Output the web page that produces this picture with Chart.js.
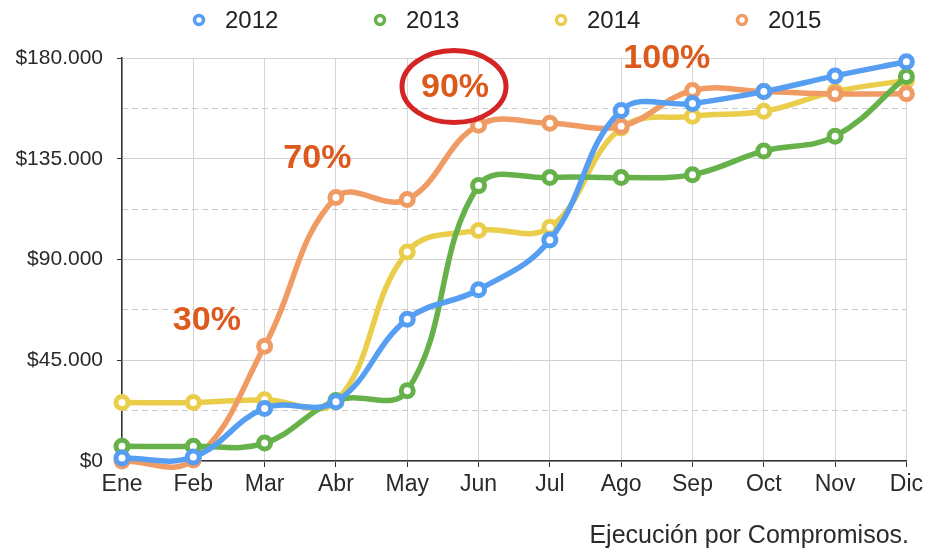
<!DOCTYPE html>
<html>
<head>
<meta charset="utf-8">
<script src="https://cdn.jsdelivr.net/npm/chart.js@4/dist/chart.umd.min.js"></script>
<style>
  html, body { margin: 0; padding: 0; background: #fff; }
  #wrap { width: 927px; height: 549px; }
</style>
</head>
<body>
<div id="wrap"><canvas id="chart" width="927" height="549"></canvas></div>
<script>
// Data
const months = ['Ene', 'Feb', 'Mar', 'Abr', 'May', 'Jun', 'Jul', 'Ago', 'Sep', 'Oct', 'Nov', 'Dic'];
const years = ['2012', '2013', '2014', '2015'];
const values2012 = [1300, 1800, 23500, 26500, 63300, 76500, 98700, 156600, 159700, 165000, 172000, 178300];
const values2013 = [6600, 6600, 8000, 27000, 31400, 123000, 126600, 126600, 127900, 138500, 145100, 171700];
const values2014 = [26100, 26100, 27400, 26500, 93400, 103000, 104400, 148700, 154000, 156200, 165000, 170000];
const values2015 = [0, 500, 51300, 117700, 116800, 150000, 150900, 149500, 165500, 165000, 164000, 164000];
const yMax = 180000;
const yStep = 22500;
const yLabelStep = 45000;
const subtitle = 'Ejecución por Compromisos.';

// percentage notes placed on the chart (category index, value)
const notes = [
  { text: '30%', at: 1.19, value: 62800 },
  { text: '70%', at: 2.74, value: 135000 },
  { text: '90%', at: 4.67, value: 166800, circled: true },
  { text: '100%', at: 7.64, value: 179700 }
];

const colors = ['#559ef2', '#67b14b', '#ebcd4c', '#f19b64'];
const series = [values2012, values2013, values2014, values2015];
const drawOrder = [0, 1, 3, 2];

const FONT = '"Liberation Sans", Arial, sans-serif';
Chart.defaults.font.family = FONT;
Chart.defaults.color = '#2a2a2a';

function money(v) {
  return '$' + v.toString().replace(/\B(?=(\d{3})+(?!\d))/g, '.');
}

// legend with wide spacing, drawn above the plot
const spacedLegend = {
  id: 'spacedLegend',
  afterDraw(chart) {
    const ctx = chart.ctx;
    const x0 = chart.chartArea.left + 77;
    const step = 181;
    ctx.save();
    chart.data.datasets.forEach((ds, i) => {
      const cx = x0 + i * step;
      ctx.beginPath();
      ctx.arc(cx, 20, 4.5, 0, Math.PI * 2);
      ctx.fillStyle = '#fff';
      ctx.fill();
      ctx.lineWidth = 3.5;
      ctx.strokeStyle = ds.borderColor;
      ctx.stroke();
      ctx.font = '24px ' + FONT;
      ctx.fillStyle = '#222';
      ctx.textAlign = 'left';
      ctx.textBaseline = 'middle';
      ctx.fillText(ds.label, cx + 26, 21);
    });
    ctx.restore();
  }
};

// orange percentage notes
const percentNotes = {
  id: 'percentNotes',
  afterDatasetsDraw(chart) {
    const ctx = chart.ctx;
    const xs = chart.scales.x;
    const ys = chart.scales.y;
    ctx.save();
    notes.forEach((n) => {
      const x = xs.getPixelForValue(n.at);
      const y = ys.getPixelForValue(n.value);
      ctx.font = 'bold 34px ' + FONT;
      ctx.fillStyle = '#dc5a1c';
      ctx.textAlign = 'center';
      ctx.textBaseline = 'middle';
      ctx.fillText(n.text, x, y);
      if (n.circled) {
        ctx.beginPath();
        ctx.ellipse(x - 1, y - 1, 52, 36, 0, 0, Math.PI * 2);
        ctx.lineWidth = 5;
        ctx.strokeStyle = '#d42424';
        ctx.stroke();
      }
    });
    ctx.restore();
  }
};

new Chart(document.getElementById('chart').getContext('2d'), {
  type: 'line',
  data: {
    labels: months,
    datasets: years.map((y, i) => ({
      label: y,
      data: series[i],
      yAxisID: 'y',
      borderColor: colors[i],
      backgroundColor: colors[i],
      borderWidth: 5.5,
      pointRadius: 6,
      pointBorderWidth: 5,
      pointBackgroundColor: '#fff',
      pointBorderColor: colors[i],
      tension: 0.4,
      fill: false,
      clip: false,
      order: drawOrder[i]
    }))
  },
  options: {
    responsive: false,
    animation: false,
    layout: { padding: { top: 58, left: 0, right: 18, bottom: 0 } },
    elements: { line: { capBezierPoints: false } },
    plugins: {
      legend: { display: false },
      tooltip: { enabled: false },
      title: {
        display: true,
        text: subtitle,
        position: 'bottom',
        align: 'end',
        color: '#2a2a2a',
        font: { size: 25, weight: 'normal', lineHeight: 1 },
        padding: { top: 10, bottom: 0 }
      }
    },
    scales: {
      x: {
        offset: false,
        grid: { color: '#d6d6d6', lineWidth: 1, tickColor: '#333', tickLength: 6 },
        border: { color: '#333', width: 1.5 },
        ticks: {
          padding: 4,
          maxRotation: 0,
          autoSkip: false,
          font: { size: 23 }
        },
        afterFit(scale) { scale.height = 53; }
      },
      y: {
        min: 0,
        max: yMax,
        grid: {
          color: (c) => (c.tick && c.tick.value % yLabelStep === 0 ? '#d2d2d2' : 'rgba(0,0,0,0)'),
          tickColor: (c) => (c.tick && c.tick.value % yLabelStep === 0 ? '#333' : 'rgba(0,0,0,0)'),
          tickLength: 5
        },
        border: { color: '#333', width: 1.5 },
        ticks: {
          stepSize: yStep,
          padding: 14,
          font: { size: 21 },
          callback: (v) => (v % yLabelStep === 0 ? money(v) : '')
        },
        afterFit(scale) { scale.width = 122; }
      },
      yMinor: {
        position: 'right',
        min: 0,
        max: yMax,
        grid: {
          drawTicks: false,
          color: (c) => (c.tick && c.tick.value % yLabelStep !== 0 ? '#c9c9c9' : 'rgba(0,0,0,0)')
        },
        border: { display: false, dash: [6, 4] },
        ticks: { display: false, stepSize: yStep }
      }
    }
  },
  plugins: [spacedLegend, percentNotes]
});
</script>
</body>
</html>
